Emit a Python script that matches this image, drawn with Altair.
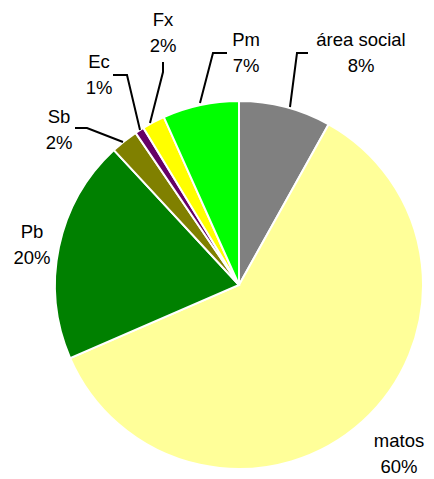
import altair as alt
import pandas as pd

categories = ["área social", "matos", "Pb", "Sb", "Ec", "Fx", "Pm"]
values = [8.1, 60.4, 19.6, 2.4, 0.8, 2.0, 6.7]
pct_labels = ["8%", "60%", "20%", "2%", "1%", "2%", "7%"]
colors = ["#808080", "#FFFF99", "#008000", "#808000", "#660066", "#FFFF00", "#00FF00"]

# label anchor positions (chart pixels)
label_x = [353, 391, 24, 51, 91, 155, 238]
label_y = [32, 433, 224, 109, 54, 12, 32]

# leader lines (chart pixels)
leader_cat = ["área social"] * 3 + ["Pm"] * 3 + ["Fx"] * 3 + ["Ec"] * 3 + ["Sb"] * 3
leader_ord = [0, 1, 2] * 5
leader_x = [282, 289, 300, 192, 205, 219, 142, 155, 155, 132, 119, 105, 115, 79, 67]
leader_y = [99, 45, 45, 95, 45, 45, 115, 64, 54, 122, 67, 67, 134, 120, 120]

CX, CY, R = 231, 277, 184

pie_df = pd.DataFrame({"cat": categories, "val": values, "ord": list(range(len(categories)))})
lab_df = pd.DataFrame({"cat": categories, "pct": pct_labels, "x": label_x,
                       "y": label_y, "y2": [v + 26 for v in label_y]})
lead_df = pd.DataFrame({"cat": leader_cat, "o": leader_ord, "x": leader_x, "y": leader_y})

pie = alt.Chart(pie_df).mark_arc(radius=R, stroke="white", strokeWidth=2).encode(
    theta=alt.Theta("val:Q", stack=True),
    order=alt.Order("ord:Q"),
    color=alt.Color("cat:N", scale=alt.Scale(domain=categories, range=colors), legend=None),
    x=alt.value(CX),
    y=alt.value(CY),
)

lines = alt.Chart(lead_df).mark_line(color="black", strokeWidth=2).encode(
    x=alt.X("x:Q", scale=None, axis=None),
    y=alt.Y("y:Q", scale=None, axis=None),
    detail="cat:N",
    order="o:Q",
)

font = "Liberation Sans"
names = alt.Chart(lab_df).mark_text(font=font, fontSize=18.5, align="center", baseline="middle", color="black").encode(
    x=alt.X("x:Q", scale=None, axis=None),
    y=alt.Y("y:Q", scale=None, axis=None),
    text="cat:N",
)
pcts = alt.Chart(lab_df).mark_text(font=font, fontSize=18.5, align="center", baseline="middle", color="black").encode(
    x=alt.X("x:Q", scale=None, axis=None),
    y=alt.Y("y2:Q", scale=None, axis=None),
    text="pct:N",
)

chart = alt.layer(pie, lines, names, pcts).properties(
    width=418, height=471, padding=0, autosize="none"
).configure_view(stroke=None)

chart.save("out.html", embed_options={"renderer": "svg", "actions": False})
